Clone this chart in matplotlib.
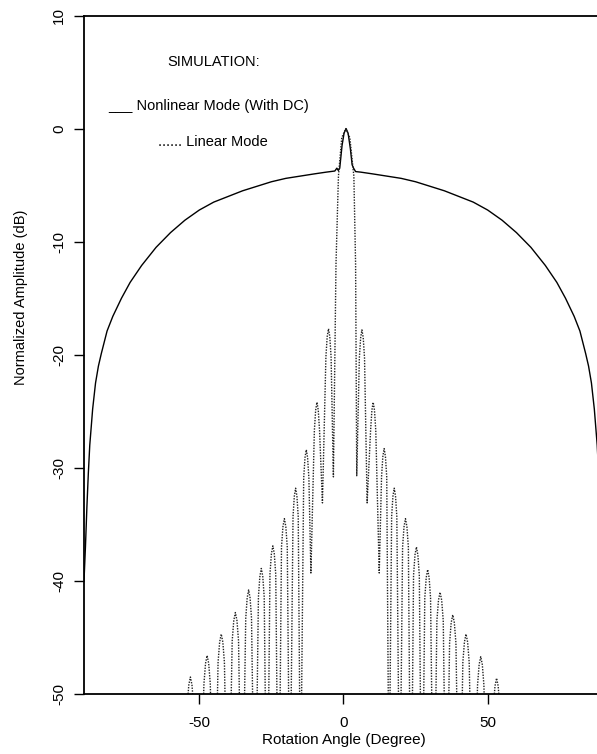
import matplotlib
matplotlib.use("Agg")
import matplotlib.pyplot as plt

plt.rcParams["font.family"] = ["Liberation Sans", "DejaVu Sans"]
plt.rcParams["axes.unicode_minus"] = False

# Nonlinear mode (with DC), solid curve: angle (deg) / amplitude (dB)
nl_deg = [-90.0, -89.5, -89.0, -88.5, -88.0, -87.0, -86.0, -85.0, -84.0, -82.0,
          -80.0, -77.0, -74.0, -70.0, -65.0, -60.0, -55.0, -50.0, -45.0, -40.0,
          -35.0, -30.0, -25.0, -20.0, -15.0, -10.0, -6.0, -3.0, -2.3, -1.8,
          -1.3, -0.5, 0.2, 0.9, 1.6, 2.4, 3.0, 3.5, 4.2, 6.0,
          10.0, 15.0, 20.0, 25.0, 30.0, 35.0, 40.0, 45.0, 50.0, 55.0,
          60.0, 65.0, 70.0, 74.0, 77.0, 80.0, 82.0, 84.0, 85.0, 86.0,
          87.0, 88.0, 88.5, 89.0, 89.5, 90.0]
nl_db = [-40.0, -37.0, -33.5, -30.5, -28.0, -24.8, -22.5, -21.0, -19.9, -17.9,
         -16.6, -15.0, -13.6, -12.1, -10.5, -9.2, -8.1, -7.2, -6.5, -6.0,
         -5.5, -5.1, -4.7, -4.4, -4.2, -4.0, -3.85, -3.75, -3.5, -3.7,
         -3.5, -1.5, -0.4, 0.0, -0.4, -1.8, -3.2, -3.5, -3.8, -3.85,
         -4.0, -4.2, -4.4, -4.7, -5.1, -5.5, -6.0, -6.5, -7.2, -8.1,
         -9.2, -10.5, -12.1, -13.6, -15.0, -16.6, -17.9, -19.9, -21.0, -22.5,
         -24.8, -28.0, -30.5, -33.5, -37.0, -40.0]

# Linear mode, dotted curve: one row per lobe
# (nulls that fall below -50 dB get clipped by the axes)
lin_deg = [-57.0, -55.8,
           -54.2, -53.65, -53.1, -52.55, -52.0, -50.2,
           -48.4, -47.85, -47.3, -46.75, -46.2, -44.8,
           -43.5, -42.95, -42.4, -41.85, -41.3, -40.0,
           -38.6, -38.05, -37.5, -36.95, -36.4, -35.2,
           -33.9, -33.4, -32.9, -32.4, -31.9, -30.7,
           -29.5, -29.0, -28.5, -28.0, -27.5, -26.5,
           -25.5, -25.0, -24.5, -24.0, -23.5, -22.5,
           -21.5, -21.0, -20.5, -20.0, -19.5, -18.6,
           -17.5, -17.05, -16.6, -16.15, -15.7, -14.9,
           -13.8, -13.35, -12.9, -12.45, -12.0, -11.3,
           -10.1, -9.65, -9.2, -8.75, -8.3, -7.3,
           -6.1, -5.65, -5.2, -4.75, -4.3, -3.5,
           -2.6, -1.75, -0.6, 0.8, 2.2, 3.6, 4.2, 4.6,
           5.5, 5.95, 6.4, 6.85, 7.3, 8.2,
           9.4, 9.85, 10.3, 10.75, 11.2, 12.4,
           13.2, 13.65, 14.1, 14.55, 15.0, 15.8,
           16.7, 17.15, 17.6, 18.05, 18.5, 19.5,
           20.5, 21.0, 21.5, 22.0, 22.5, 23.4,
           24.3, 24.8, 25.3, 25.8, 26.3, 27.2,
           28.2, 28.7, 29.2, 29.7, 30.2, 31.3,
           32.4, 32.95, 33.5, 34.05, 34.6, 35.7,
           36.8, 37.35, 37.9, 38.45, 39.0, 40.2,
           41.4, 41.95, 42.5, 43.05, 43.6, 45.0,
           46.5, 47.05, 47.6, 48.15, 48.7, 50.3,
           52.0, 52.55, 53.1, 53.65, 54.2, 55.9, 57.0]
lin_db = [-80.0, -65.0,
          -51.0, -49.2, -48.5, -49.2, -51.0, -65.0,
          -49.1, -47.3, -46.6, -47.3, -49.1, -65.0,
          -47.2, -45.4, -44.7, -45.4, -47.2, -65.0,
          -45.3, -43.5, -42.8, -43.5, -45.3, -65.0,
          -43.3, -41.5, -40.8, -41.5, -43.3, -65.0,
          -41.4, -39.6, -38.9, -39.6, -41.4, -65.0,
          -39.4, -37.6, -36.9, -37.6, -39.4, -65.0,
          -37.0, -35.2, -34.5, -35.2, -37.0, -62.0,
          -34.3, -32.5, -31.8, -32.5, -34.3, -60.0,
          -30.9, -29.1, -28.4, -29.1, -30.9, -39.3,
          -26.7, -24.9, -24.2, -24.9, -26.7, -33.1,
          -20.2, -18.4, -17.7, -18.4, -20.2, -30.8,
          -12.0, -4.2, -0.8, 0.0, -0.8, -4.2, -12.0, -30.7,
          -20.3, -18.5, -17.8, -18.5, -20.3, -33.1,
          -26.7, -24.9, -24.2, -24.9, -26.7, -39.3,
          -30.8, -29.0, -28.3, -29.0, -30.8, -60.0,
          -34.3, -32.5, -31.8, -32.5, -34.3, -62.0,
          -37.0, -35.2, -34.5, -35.2, -37.0, -65.0,
          -39.5, -37.7, -37.0, -37.7, -39.5, -65.0,
          -41.5, -39.7, -39.0, -39.7, -41.5, -65.0,
          -43.5, -41.7, -41.0, -41.7, -43.5, -65.0,
          -45.5, -43.7, -43.0, -43.7, -45.5, -65.0,
          -47.2, -45.4, -44.7, -45.4, -47.2, -65.0,
          -49.2, -47.4, -46.7, -47.4, -49.2, -65.0,
          -51.1, -49.3, -48.6, -49.3, -51.1, -65.0, -80.0]

x_ticks = [-50, 0, 50]
y_ticks = [-50, -40, -30, -20, -10, 0, 10]

fig = plt.figure(figsize=(5.97, 7.54), dpi=100)
# right edge of the axes runs past the figure, like the cropped scan
ax = fig.add_axes([0.1407, 0.0796, 0.8693, 0.8998])

ax.plot(nl_deg, nl_db, color="black", lw=1.0, solid_joinstyle="round")
ax.plot(lin_deg, lin_db, color="#222222", lw=1.0, linestyle=(0, (1.0, 1.0)))

ax.set_xlim(-90, 90)
ax.set_ylim(-50, 10)
ax.set_xticks(x_ticks)
ax.set_yticks(y_ticks)
ax.tick_params(axis="both", direction="out", length=7, width=1.0, labelsize=11)
ax.tick_params(axis="x", pad=9)
ax.tick_params(axis="y", pad=6)
for lab in ax.get_yticklabels():
    lab.set_rotation(90)
    lab.set_va("center")

for side in ["left", "bottom", "top", "right"]:
    ax.spines[side].set_linewidth(1.3)

ax.set_xlabel("Rotation Angle (Degree)", fontsize=11, labelpad=2)
ax.set_ylabel("Normalized Amplitude (dB)", fontsize=10.5)
ax.yaxis.set_label_coords(-0.108, 0.584)

ax.text(-61.1, 5.9, "SIMULATION:", fontsize=10.5, va="center", ha="left")
ax.text(-81.5, 2.0, "___ Nonlinear Mode (With DC)", fontsize=10.5, va="center", ha="left")
ax.text(-64.2, -1.2, "...... Linear Mode", fontsize=10.5, va="center", ha="left")

fig.savefig("out.png", dpi=100)
